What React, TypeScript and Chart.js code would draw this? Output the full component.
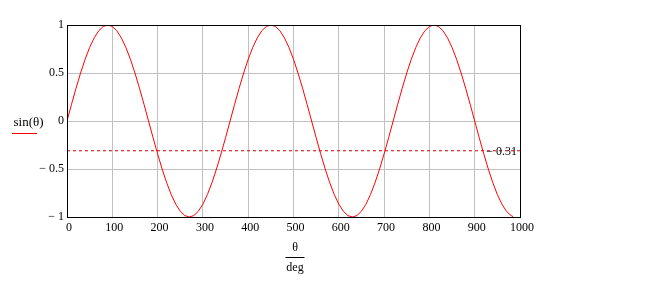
import React, { useEffect, useRef } from "react";
import { Chart, registerables } from "chart.js";

Chart.register(...registerables);

// θ in degrees (x values)
const thetaDeg = [
  0, 10, 20, 30, 40, 50, 60, 70, 80, 90, 100, 110, 120, 130, 140, 150, 160, 170,
  180, 190, 200, 210, 220, 230, 240, 250, 260, 270, 280, 290, 300, 310, 320, 330, 340, 350,
  360, 370, 380, 390, 400, 410, 420, 430, 440, 450, 460, 470, 480, 490, 500, 510, 520, 530,
  540, 550, 560, 570, 580, 590, 600, 610, 620, 630, 640, 650, 660, 670, 680, 690, 700, 710,
  720, 730, 740, 750, 760, 770, 780, 790, 800, 810, 820, 830, 840, 850, 860, 870, 880, 890,
  900, 910, 920, 930, 940, 950, 960, 970, 980, 985,
];

// sin(θ) values
const sinTheta = [
  0, 0.174, 0.342, 0.5, 0.643, 0.766, 0.866, 0.94, 0.985, 1, 0.985, 0.94, 0.866, 0.766, 0.643, 0.5, 0.342, 0.174,
  0, -0.174, -0.342, -0.5, -0.643, -0.766, -0.866, -0.94, -0.985, -1, -0.985, -0.94, -0.866, -0.766, -0.643, -0.5, -0.342, -0.174,
  0, 0.174, 0.342, 0.5, 0.643, 0.766, 0.866, 0.94, 0.985, 1, 0.985, 0.94, 0.866, 0.766, 0.643, 0.5, 0.342, 0.174,
  0, -0.174, -0.342, -0.5, -0.643, -0.766, -0.866, -0.94, -0.985, -1, -0.985, -0.94, -0.866, -0.766, -0.643, -0.5, -0.342, -0.174,
  0, 0.174, 0.342, 0.5, 0.643, 0.766, 0.866, 0.94, 0.985, 1, 0.985, 0.94, 0.866, 0.766, 0.643, 0.5, 0.342, 0.174,
  0, -0.174, -0.342, -0.5, -0.643, -0.766, -0.866, -0.94, -0.985, -0.996,
];

const refLevel = -0.31;
const refLabel = "\u2212 0.31";
const xRange = [0, 1000];
const xTickValues = [0, 100, 200, 300, 400, 500, 600, 700, 800, 900, 1000];
const yTickValues = [-1, -0.5, 0, 0.5, 1];
const yTickLabels = ["\u2212 1", "\u2212 0.5", "0", "0.5", "1"];

const yTitle = "sin(\u03b8)";
const xTitleTop = "\u03b8";
const xTitleBottom = "deg";

const FONT = "'Liberation Serif', 'Times New Roman', serif";

export default function App() {
  const ref = useRef<HTMLCanvasElement>(null);

  useEffect(() => {
    const canvas = ref.current!;
    const overlay = {
      id: "overlay",
      afterDraw(chart: any) {
        const ctx = chart.ctx as CanvasRenderingContext2D;
        const a = chart.chartArea;
        const ys = chart.scales.y;
        ctx.save();
        // frame
        ctx.strokeStyle = "#000";
        ctx.lineWidth = 1;
        ctx.strokeRect(Math.floor(a.left) + 0.5, Math.floor(a.top) + 0.5, Math.round(a.right - a.left), Math.round(a.bottom - a.top));

        ctx.font = `12px ${FONT}`;
        ctx.fillStyle = "#000";
        // reference value label
        ctx.textAlign = "right";
        ctx.textBaseline = "middle";
        ctx.fillText(refLabel, a.right - 3, ys.getPixelForValue(refLevel) + 1);

        // y title with legend line
        ctx.font = `13px ${FONT}`;
        ctx.textAlign = "center";
        ctx.fillText(yTitle, 28.5, a.top + 98);
        ctx.strokeStyle = "#ff0000";
        ctx.beginPath();
        ctx.moveTo(12, a.top + 108.5);
        ctx.lineTo(37, a.top + 108.5);
        ctx.stroke();

        // x title as fraction
        const cx = (a.left + a.right) / 2 + 1.5;
        ctx.font = `12px ${FONT}`;
        ctx.fillStyle = "#000";
        ctx.fillText(xTitleTop, cx, a.bottom + 31);
        ctx.strokeStyle = "#000";
        ctx.beginPath();
        ctx.moveTo(cx - 9.5, a.bottom + 40.5);
        ctx.lineTo(cx + 9.5, a.bottom + 40.5);
        ctx.stroke();
        ctx.fillText(xTitleBottom, cx, a.bottom + 51);
        ctx.restore();
      },
    };

    const chart = new Chart(canvas, {
      type: "line",
      data: {
        datasets: [
          {
            data: thetaDeg.map((t, i) => ({ x: t, y: sinTheta[i] })),
            borderColor: "#ff0000",
            borderWidth: 1,
            pointRadius: 0,
            tension: 0,
          },
          {
            data: [
              { x: xRange[0], y: refLevel },
              { x: xRange[1], y: refLevel },
            ],
            borderColor: "#d00000",
            borderWidth: 1,
            borderDash: [3, 3],
            pointRadius: 0,
          },
        ],
      },
      options: {
        responsive: false,
        animation: false,
        devicePixelRatio: 1,
        layout: { padding: { left: 0, right: 132, top: 25, bottom: 0 } },
        plugins: { legend: { display: false }, tooltip: { enabled: false } },
        scales: {
          x: {
            type: "linear",
            min: xRange[0],
            max: xRange[1],
            afterBuildTicks: (s: any) => {
              s.ticks = xTickValues.map((v) => ({ value: v }));
            },
            afterFit: (s: any) => {
              s.height = 78;
            },
            grid: { color: "#c0c0c0", drawTicks: false, lineWidth: 1 },
            border: { color: "#000", width: 1 },
            ticks: {
              font: { family: FONT, size: 12 },
              color: "#000",
              padding: 4,
              labelOffset: 2,
              maxRotation: 0,
              autoSkip: false,
              callback: (v: any) => String(v),
            },
          },
          y: {
            type: "linear",
            min: -1,
            max: 1,
            afterBuildTicks: (s: any) => {
              s.ticks = yTickValues.map((v) => ({ value: v }));
            },
            afterFit: (s: any) => {
              s.width = 67;
            },
            grid: { color: "#c0c0c0", drawTicks: false, lineWidth: 1 },
            border: { color: "#000", width: 1 },
            ticks: {
              font: { family: FONT, size: 12 },
              color: "#000",
              padding: 3,
              autoSkip: false,
              callback: (v: any) => {
                const i = yTickValues.indexOf(Number(v));
                return i >= 0 ? yTickLabels[i] : "";
              },
            },
          },
        },
      },
      plugins: [overlay],
    } as any);

    return () => chart.destroy();
  }, []);

  return (
    <div style={{ position: "fixed", left: 0, top: 0, width: 652, height: 295, background: "#fff" }}>
      <canvas ref={ref} width={652} height={295} style={{ display: "block" }} />
    </div>
  );
}
